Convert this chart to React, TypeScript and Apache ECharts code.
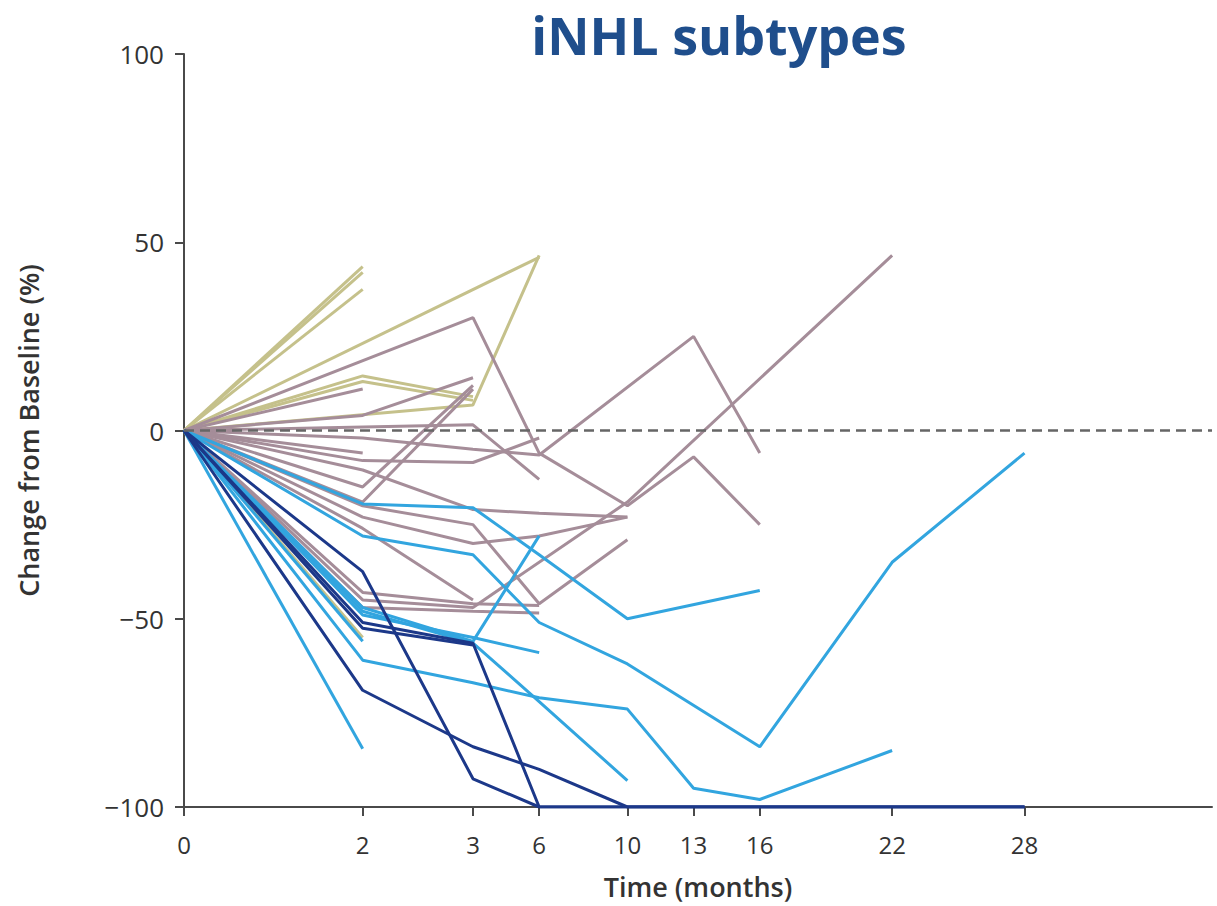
import React, { useEffect, useRef } from "react";
import * as echarts from "echarts";

// Time points (months) and their tick labels
const months = [0, 2, 3, 6, 10, 13, 16, 22, 28];
const xTickLabels = ["0", "2", "3", "6", "10", "13", "16", "22", "28"];
// The time axis of the original is drawn unevenly: axis position of each time point
const monthAxisPos = [0, 8.1, 13.1, 16.1, 20.1, 23.1, 26.1, 32.1, 38.1];
const yTicks = [-100, -50, 0, 50, 100];

// % change from baseline per patient, aligned with `months` (null = no assessment)
const khakiPatients: (number | null)[][] = [
  [0, 43.5],
  [0, 42],
  [0, 37.5],
  [0, null, null, 46],
  [0, 14.5, 9],
  [0, 13, 8],
  [0, null, 6.8, 46.5],
  [0, -55],
];

const mauvePatients: (number | null)[][] = [
  [0, null, 30, -6, -20, -7, -25],
  [0, -45, -47, null, -19, null, null, 46.5],
  [0, -2, -5, -6.5, null, 25, -6],
  [0, null, 1.5, -13],
  [0, -8, -8.5, -2],
  [0, 11],
  [0, 4, 14],
  [0, -15, 12],
  [0, -19, 11],
  [0, -6],
  [0, -10.5, -21, -22, -23],
  [0, -23, -30, -28, -23],
  [0, -20, -25, -46, -29],
  [0, -43, -46, -46.5],
  [0, -47, -48, -48.5],
  [0, -26, -45],
];

const lightBluePatients: (number | null)[][] = [
  [0, -28, -33, -51, -62, null, -84, -35, -6],
  [0, -19.5, -20.5, -33, -50, null, -42.5],
  [0, -61, -67, -71, -74, -95, -98, -85],
  [0, -48, -56.5, -72, -93],
  [0, -47, -56, -28],
  [0, -49, -55, -59],
  [0, -84.5],
  [0, -56],
];

const darkBluePatients: (number | null)[][] = [
  [0, -37.5, -92.5, -100, -100, -100, -100, -100, -100],
  [0, -51, -56.5, -100, -100, -100, -100, -100, -100],
  [0, -69, -84, -90, -100, -100, -100, -100, -100],
  [0, -52.5, -57],
];

const FONT = "'Open Sans', 'Noto Sans', sans-serif";

export default function App() {
  const ref = useRef<HTMLDivElement>(null);

  useEffect(() => {
    if (!ref.current) return;
    const chart = echarts.init(ref.current, undefined, { renderer: "svg" });

    const groups = [
      { patients: khakiPatients, color: "#c5c18b" },
      { patients: mauvePatients, color: "#a58d99" },
      { patients: lightBluePatients, color: "#32a5df" },
      { patients: darkBluePatients, color: "#1c3889" },
    ];

    const series: any[] = [];
    groups.forEach((g) =>
      g.patients.forEach((vals) => {
        const data = vals
          .map((v, i) => (v == null ? null : [monthAxisPos[i], v]))
          .filter((p) => p !== null);
        series.push({
          type: "line",
          data,
          symbol: "none",
          showSymbol: false,
          silent: true,
          lineStyle: { color: g.color, width: 3 },
          itemStyle: { color: g.color },
        });
      })
    );

    series.push({
      type: "line",
      data: [[monthAxisPos[0], 0]],
      symbol: "none",
      showSymbol: false,
      silent: true,
      lineStyle: { width: 0 },
      markLine: {
        silent: true,
        symbol: ["none", "none"],
        label: { show: false },
        lineStyle: { color: "#666666", type: [10, 6], width: 2.6 },
        data: [{ yAxis: 0 }],
      },
    });

    const labelFor = (v: number) => {
      const i = monthAxisPos.findIndex((p) => Math.abs(p - v) < 0.01);
      return i >= 0 ? xTickLabels[i] : "";
    };

    chart.setOption({
      animation: false,
      backgroundColor: "#ffffff",
      grid: { left: 184, right: 5, top: 54, bottom: 99, containLabel: false },
      graphic: [
        {
          type: "text",
          x: 719,
          y: 34,
          style: {
            text: "iNHL subtypes",
            fontFamily: FONT,
            fontSize: 52,
            fontWeight: "bold",
            fill: "#1f4e8c",
            textAlign: "center",
            textVerticalAlign: "middle",
          },
        },
      ],
      xAxis: {
        type: "value",
        min: 0,
        max: 46.6,
        splitLine: { show: false },
        axisLine: { onZero: false, lineStyle: { color: "#4a4a4a", width: 2 } },
        axisTick: {
          customValues: monthAxisPos,
          length: 9,
          lineStyle: { color: "#4a4a4a", width: 2 },
        },
        axisLabel: {
          customValues: monthAxisPos,
          formatter: (v: number) => labelFor(v),
          fontFamily: FONT,
          fontSize: 24,
          color: "#333333",
          margin: 25,
        },
        name: "Time (months)",
        nameLocation: "middle",
        nameGap: 66,
        nameTextStyle: {
          fontFamily: FONT,
          fontSize: 27,
          fontWeight: 600,
          color: "#333333",
        },
      },
      yAxis: {
        type: "value",
        min: yTicks[0],
        max: yTicks[yTicks.length - 1],
        interval: 50,
        splitLine: { show: false },
        axisLine: { show: true, onZero: false, lineStyle: { color: "#4a4a4a", width: 2 } },
        axisTick: { show: true, length: 9, lineStyle: { color: "#4a4a4a", width: 2 } },
        axisLabel: {
          fontFamily: FONT,
          fontSize: 26,
          color: "#333333",
          margin: 20,
          formatter: (v: number) => (v < 0 ? "\u2212" + Math.abs(v) : String(v)),
        },
        name: "Change from Baseline (%)",
        nameLocation: "middle",
        nameGap: 142,
        nameRotate: 90,
        nameTextStyle: {
          fontFamily: FONT,
          fontSize: 27,
          fontWeight: 600,
          color: "#333333",
        },
      },
      series,
    });

    return () => chart.dispose();
  }, []);

  return (
    <div
      ref={ref}
      style={{ position: "fixed", left: 0, top: 0, width: 1217, height: 906, background: "#fff" }}
    />
  );
}
